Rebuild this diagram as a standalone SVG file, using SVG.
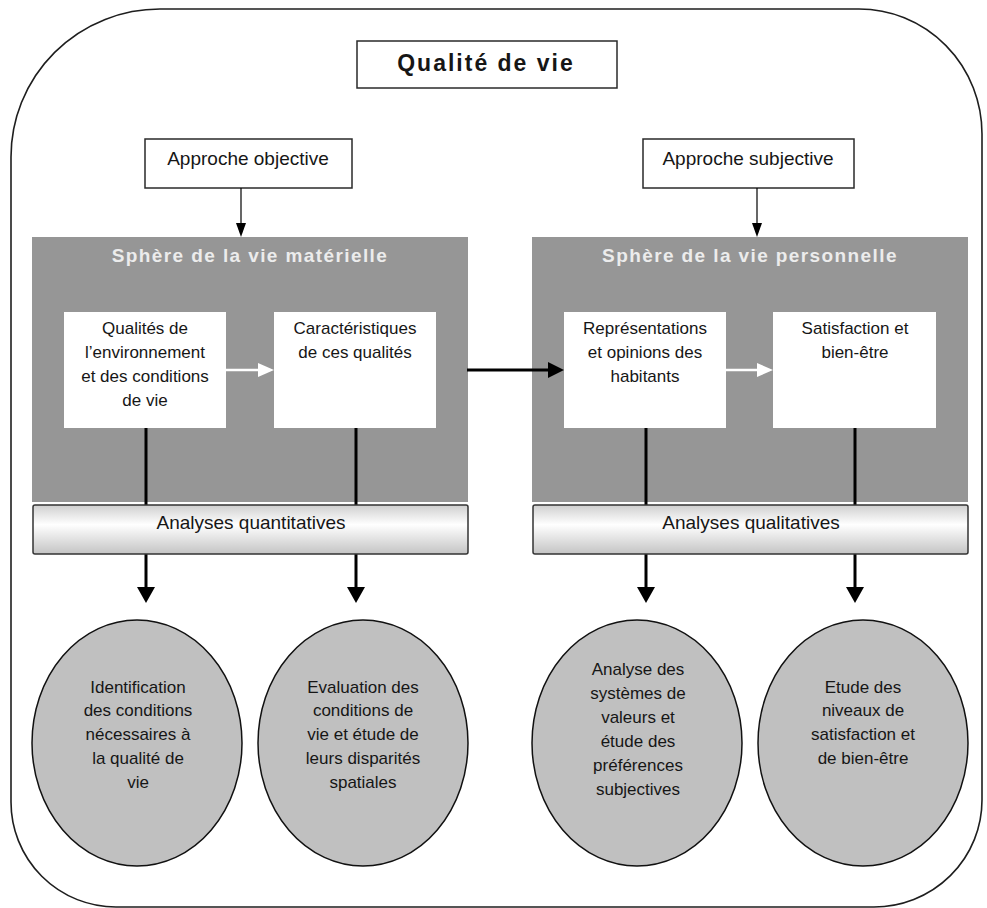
<svg xmlns="http://www.w3.org/2000/svg" width="987" height="908" viewBox="0 0 987 908">
<defs>
<style>
.t{font-family:"Liberation Sans",Arial,sans-serif;fill:#161616;text-anchor:middle}
.s17{font-size:17px}
.s19{font-size:19px}
.ttl{font-family:"Liberation Sans",Arial,sans-serif;font-weight:bold;font-size:19px;fill:#ececec;text-anchor:middle;letter-spacing:1.4px}
.box{fill:#fff;stroke:#2a2a2a;stroke-width:1.5}
.wbox{fill:#fff}
.sphere{fill:#969696}
.ell{fill:#c0c0c0;stroke:#111;stroke-width:1.5}
.bar{fill:url(#barg);stroke:#333;stroke-width:1.5}
.thick{stroke:#000;stroke-width:3;fill:none}
.thin{stroke:#000;stroke-width:1.2;fill:none}
.white{stroke:#fff;stroke-width:2.5;fill:none}
</style>
<linearGradient id="barg" x1="0" y1="0" x2="0" y2="1">
<stop offset="0" stop-color="#cfcfcf"/>
<stop offset="0.4" stop-color="#ffffff"/>
<stop offset="1" stop-color="#c4c4c4"/>
</linearGradient>
</defs>

<g id="frame">
<path d="M160,9 H859 A123,125 0 0 1 982,134 V800 A108,107 0 0 1 874,907 H116 A105,105 0 0 1 11,802 V157 A149,148 0 0 1 160,9 Z" fill="none" stroke="#1e1e1e" stroke-width="1.6"/>
</g>

<g id="title">
<rect class="box" x="357" y="41" width="260" height="47" stroke-width="2"/>
<text class="t" x="486" y="71" style="font-size:23px;font-weight:bold;letter-spacing:2px">Qualité de vie</text>
</g>

<g id="approche-objective">
<rect class="box" x="145" y="139" width="207" height="49"/>
<text class="t s19" x="248" y="165">Approche objective</text>
</g>
<g id="approche-subjective">
<rect class="box" x="643" y="139" width="211" height="49"/>
<text class="t s19" x="748" y="165">Approche subjective</text>
</g>

<g id="sphere-materielle">
<rect class="sphere" x="32" y="237" width="436" height="265"/>
<text class="ttl" x="250" y="262">Sphère de la vie matérielle</text>
</g>
<g id="sphere-personnelle">
<rect class="sphere" x="532" y="237" width="436" height="265"/>
<text class="ttl" x="750" y="262">Sphère de la vie personnelle</text>
</g>

<g id="qualites">
<rect class="wbox" x="64" y="312" width="162" height="116"/>
<text class="t s17" x="145" y="334">Qualités de</text>
<text class="t s17" x="145" y="358">l’environnement</text>
<text class="t s17" x="145" y="382">et des conditions</text>
<text class="t s17" x="145" y="406">de vie</text>
</g>
<g id="caracteristiques">
<rect class="wbox" x="274" y="312" width="162" height="116"/>
<text class="t s17" x="355" y="334">Caractéristiques</text>
<text class="t s17" x="355" y="358">de ces qualités</text>
</g>
<g id="representations">
<rect class="wbox" x="564" y="312" width="162" height="116"/>
<text class="t s17" x="645" y="334">Représentations</text>
<text class="t s17" x="645" y="358">et opinions des</text>
<text class="t s17" x="645" y="382">habitants</text>
</g>
<g id="satisfaction">
<rect class="wbox" x="773" y="312" width="163" height="116"/>
<text class="t s17" x="855" y="334">Satisfaction et</text>
<text class="t s17" x="855" y="358">bien-être</text>
</g>

<g id="connectors">
<line class="thin" x1="241" y1="188" x2="241" y2="224"/>
<polygon points="236,223 246,223 241,237" fill="#000"/>
<line class="thin" x1="757" y1="188" x2="757" y2="224"/>
<polygon points="752,223 762,223 757,237" fill="#000"/>

<line class="white" x1="226" y1="370" x2="259" y2="370"/>
<polygon points="258,363 274,370 258,377" fill="#fff"/>
<line class="white" x1="726" y1="370" x2="758" y2="370"/>
<polygon points="757,363 773,370 757,377" fill="#fff"/>

<line class="thick" x1="467" y1="370" x2="550" y2="370"/>
<polygon points="548,362 564,370 548,378" fill="#000"/>

<line class="thick" x1="146" y1="428" x2="146" y2="506"/>
<line class="thick" x1="356" y1="428" x2="356" y2="506"/>
<line class="thick" x1="646" y1="428" x2="646" y2="506"/>
<line class="thick" x1="855" y1="428" x2="855" y2="506"/>

<line class="thick" x1="146" y1="554" x2="146" y2="589"/>
<polygon points="137,587 155,587 146,603" fill="#000"/>
<line class="thick" x1="356" y1="554" x2="356" y2="589"/>
<polygon points="347,587 365,587 356,603" fill="#000"/>
<line class="thick" x1="646" y1="554" x2="646" y2="589"/>
<polygon points="637,587 655,587 646,603" fill="#000"/>
<line class="thick" x1="855" y1="554" x2="855" y2="589"/>
<polygon points="846,587 864,587 855,603" fill="#000"/>
</g>

<g id="analyses-quantitatives">
<rect class="bar" x="33" y="505" width="435" height="49" rx="2"/>
<text class="t s19" x="251" y="529">Analyses quantitatives</text>
</g>
<g id="analyses-qualitatives">
<rect class="bar" x="533" y="505" width="435" height="49" rx="2"/>
<text class="t s19" x="751" y="529">Analyses qualitatives</text>
</g>

<g id="identification">
<ellipse class="ell" cx="137" cy="743" rx="105" ry="123"/>
<text class="t s17" x="138" y="693">Identification</text>
<text class="t s17" x="138" y="716">des conditions</text>
<text class="t s17" x="138" y="740">nécessaires à</text>
<text class="t s17" x="138" y="764">la qualité de</text>
<text class="t s17" x="138" y="788">vie</text>
</g>
<g id="evaluation">
<ellipse class="ell" cx="363" cy="743" rx="105" ry="123"/>
<text class="t s17" x="363" y="693">Evaluation des</text>
<text class="t s17" x="363" y="716">conditions de</text>
<text class="t s17" x="363" y="740">vie et étude de</text>
<text class="t s17" x="363" y="764">leurs disparités</text>
<text class="t s17" x="363" y="788">spatiales</text>
</g>
<g id="analyse-systemes">
<ellipse class="ell" cx="637" cy="743" rx="105" ry="123"/>
<text class="t s17" x="638" y="675">Analyse des</text>
<text class="t s17" x="638" y="699">systèmes de</text>
<text class="t s17" x="638" y="723">valeurs et</text>
<text class="t s17" x="638" y="747">étude des</text>
<text class="t s17" x="638" y="771">préférences</text>
<text class="t s17" x="638" y="795">subjectives</text>
</g>
<g id="etude-niveaux">
<ellipse class="ell" cx="863" cy="743" rx="105" ry="123"/>
<text class="t s17" x="863" y="693">Etude des</text>
<text class="t s17" x="863" y="716">niveaux de</text>
<text class="t s17" x="863" y="740">satisfaction et</text>
<text class="t s17" x="863" y="764">de bien-être</text>
</g>
</svg>
